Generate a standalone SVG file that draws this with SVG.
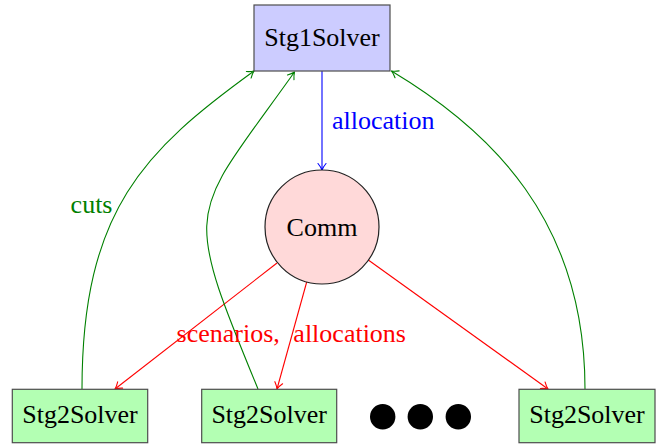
<svg xmlns="http://www.w3.org/2000/svg" width="659" height="444" viewBox="0 0 659 444">
  <style>
    text { font-family: 'Liberation Serif', 'DejaVu Serif', serif; font-size: 26px; }
    .node-label { fill: #000; text-anchor: middle; }
    .box { stroke: #4d4d4d; stroke-width: 1.2; }
    .stg1 { fill: #ccccff; }
    .stg2 { fill: #b3ffb3; }
    .comm { fill: #ffd9d9; stroke: #222; stroke-width: 1.2; }
    .edge { fill: none; stroke-width: 1.1; }
    .green { stroke: #008000; }
    .blue { stroke: #0000ff; }
    .red { stroke: #ff0000; }
    .head { fill: none; stroke-width: 1.1; stroke-linecap: round; stroke-linejoin: round; }
  </style>
  <defs>
    <marker id="arrow-green" markerUnits="userSpaceOnUse" markerWidth="12" markerHeight="12" refX="0" refY="0" orient="auto" overflow="visible">
      <path class="head" stroke="#008000" d="M -6.5,-4 C -3.8,-1.8 -1.3,-0.5 0,0 C -1.3,0.5 -3.8,1.8 -6.5,4"/>
    </marker>
    <marker id="arrow-blue" markerUnits="userSpaceOnUse" markerWidth="12" markerHeight="12" refX="0" refY="0" orient="auto" overflow="visible">
      <path class="head" stroke="#0000ff" d="M -6.5,-4 C -3.8,-1.8 -1.3,-0.5 0,0 C -1.3,0.5 -3.8,1.8 -6.5,4"/>
    </marker>
    <marker id="arrow-red" markerUnits="userSpaceOnUse" markerWidth="12" markerHeight="12" refX="0" refY="0" orient="auto" overflow="visible">
      <path class="head" stroke="#ff0000" d="M -6.5,-4 C -3.8,-1.8 -1.3,-0.5 0,0 C -1.3,0.5 -3.8,1.8 -6.5,4"/>
    </marker>
  </defs>

  <rect width="659" height="444" fill="#ffffff"/>

  <!-- connectors -->
  <g id="connectors">
    <!-- allocation: master to comm -->
    <path class="edge blue" d="M 322,71 L 322,170" marker-end="url(#arrow-blue)"/>
    <!-- scenarios / allocations: comm to subproblem solvers -->
    <path class="edge red" d="M 277,263 L 115,389" marker-end="url(#arrow-red)"/>
    <path class="edge red" d="M 306.7,282 L 277,389" marker-end="url(#arrow-red)"/>
    <path class="edge red" d="M 368.3,260 L 548,389" marker-end="url(#arrow-red)"/>
    <!-- cuts: subproblem solvers back to master -->
    <path class="edge green" d="M 82,389 C 82,210 145,150 254,71" marker-end="url(#arrow-green)"/>
    <path class="edge green" d="M 258,389 C 180,200 190,219 294.5,72" marker-end="url(#arrow-green)"/>
    <path class="edge green" d="M 585,389 C 585,220 490,130 391.5,71" marker-end="url(#arrow-green)"/>
    <!-- edge labels -->
    <text x="332" y="129" fill="#0000ff">allocation</text>
    <text x="112.5" y="212.5" fill="#008000" text-anchor="end">cuts</text>
    <text x="291.3" y="341.5" fill="#ff0000" text-anchor="middle" word-spacing="7">scenarios, allocations</text>
  </g>

  <!-- master solver -->
  <g id="stg1solver">
    <rect class="box stg1" x="254" y="5" width="136" height="66"/>
    <text class="node-label" x="322" y="45.5">Stg1Solver</text>
  </g>

  <!-- communicator -->
  <g id="comm">
    <circle class="comm" cx="322" cy="227" r="57"/>
    <text class="node-label" x="322" y="236">Comm</text>
  </g>

  <!-- subproblem solvers -->
  <g id="stg2solver-1">
    <rect class="box stg2" x="12.3" y="389.3" width="135.4" height="53.4"/>
    <text class="node-label" x="80" y="423">Stg2Solver</text>
  </g>
  <g id="stg2solver-2">
    <rect class="box stg2" x="201.7" y="389.3" width="135" height="53.4"/>
    <text class="node-label" x="269.2" y="423">Stg2Solver</text>
  </g>
  <g id="ellipsis">
    <circle cx="382.7" cy="416.7" r="12.7" fill="#000"/>
    <circle cx="420.3" cy="416.7" r="12.7" fill="#000"/>
    <circle cx="458.3" cy="416.7" r="12.7" fill="#000"/>
  </g>
  <g id="stg2solver-3">
    <rect class="box stg2" x="519" y="389.3" width="136" height="53.4"/>
    <text class="node-label" x="587" y="423">Stg2Solver</text>
  </g>
</svg>
